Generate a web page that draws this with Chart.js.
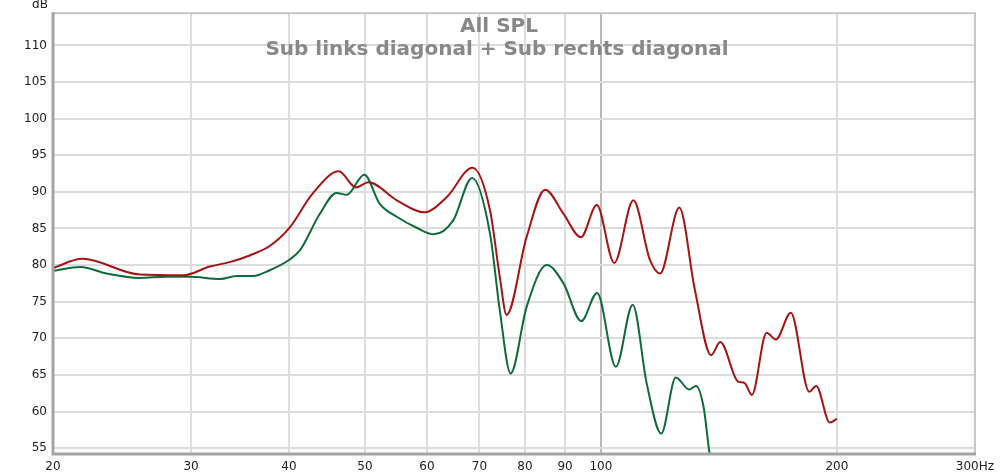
<!DOCTYPE html>
<html>
<head>
<meta charset="utf-8">
<script src="https://cdn.jsdelivr.net/npm/chart.js@4/dist/chart.umd.min.js"></script>
<style>
  html, body { margin: 0; padding: 0; background: #fff; }
  #wrap { width: 1000px; height: 474px; }
</style>
</head>
<body>
<div id="wrap"><canvas id="spl"></canvas></div>
<script>
const redFreq = [20, 21.8, 25.8, 29.3, 31.7, 33.6, 35.7, 37.8, 40, 42.9, 46.3, 48.7, 50.5, 54.9, 59.5, 63.6, 68.6, 72.2, 74.3, 75.8, 80.4, 84.9, 89.6, 94.3, 98.8, 104, 110, 115.5, 119, 125.9, 131.8, 138.2, 142, 149.6, 152.5, 155.8, 162.7, 167.2, 174.7, 184.4, 188.2, 195.9, 200];
const redDb = [79.6, 80.85, 78.7, 78.6, 79.8, 80.4, 81.35, 82.6, 85.0, 89.8, 92.8, 90.6, 91.3, 88.85, 87.2, 89.3, 93.3, 87.5, 78.4, 73.2, 83.85, 90.3, 87.0, 83.8, 88.2, 80.3, 88.85, 80.7, 78.85, 87.85, 76.6, 67.7, 69.5, 64.1, 63.9, 62.25, 70.75, 69.85, 73.5, 62.7, 63.5, 58.5, 59.0];

const greenFreq = [20, 21.7, 23.4, 25.8, 27.9, 29.9, 32.7, 34.3, 36, 37.8, 40, 41.3, 43.8, 46, 47.4, 49.9, 52.2, 54.9, 58.2, 61.2, 64.8, 68.5, 72.2, 74.3, 76.7, 80.4, 85.3, 89.6, 94.4, 98.9, 104.5, 109.8, 114.4, 119.4, 124.6, 129.6, 132.2, 135.2, 137.6, 139];
const greenDb = [79.2, 79.75, 78.85, 78.25, 78.4, 78.4, 78.1, 78.5, 78.5, 79.3, 80.7, 82.0, 87.0, 89.85, 89.6, 92.35, 88.4, 86.6, 85.1, 84.2, 86.1, 91.9, 84.3, 73.85, 65.2, 74.3, 80.0, 77.5, 72.35, 76.2, 66.1, 74.6, 63.85, 57.0, 64.65, 63.0, 63.5, 60.65, 54.3, 52];

const freqTicks = [20, 30, 40, 50, 60, 70, 80, 90, 100, 200, 300];
const dbTicks = [55, 60, 65, 70, 75, 80, 85, 90, 95, 100, 105, 110];

const titleLines = ['All SPL', 'Sub links diagonal + Sub rechts diagonal'];

const toPoints = (xs, ys) => xs.map((f, i) => ({ x: f, y: ys[i] }));

// Rahmen, Titel und "dB"-Beschriftung
const decorations = {
    id: 'decorations',
    afterDraw(chart) {
        const { ctx, chartArea: a } = chart;
        ctx.save();
        ctx.strokeStyle = '#c6c6c6';
        ctx.lineWidth = 2;
        ctx.strokeRect(a.left, a.top, a.right - a.left, a.bottom - a.top);
        ctx.strokeStyle = '#a4a4a4';
        ctx.lineWidth = 3;
        ctx.beginPath();
        ctx.moveTo(a.left, a.top - 1);
        ctx.lineTo(a.left, a.bottom);
        ctx.lineTo(a.right + 1, a.bottom);
        ctx.stroke();

        ctx.fillStyle = '#888888';
        ctx.textAlign = 'center';
        ctx.textBaseline = 'alphabetic';
        // Schriftgröße so wählen, dass die zweite Zeile ca. 463px breit ist
        ctx.font = 'bold 20px "DejaVu Sans"';
        const w = ctx.measureText(titleLines[1]).width;
        const size = Math.min(21, 20 * 463 / w);
        ctx.font = 'bold ' + size.toFixed(1) + 'px "DejaVu Sans"';
        ctx.fillText(titleLines[0], 499, 32);
        ctx.fillText(titleLines[1], 497, 55);

        ctx.fillStyle = '#222';
        ctx.font = '12px "DejaVu Sans"';
        ctx.fillText('dB', 40, 8);
        ctx.restore();
    }
};

new Chart(document.getElementById('spl'), {
    type: 'line',
    data: {
        datasets: [{
            data: toPoints(redFreq, redDb),
            borderColor: '#a51414',
            borderWidth: 2,
            pointRadius: 0,
            cubicInterpolationMode: 'monotone'
        }, {
            data: toPoints(greenFreq, greenDb),
            borderColor: '#0f6a3c',
            borderWidth: 2,
            pointRadius: 0,
            cubicInterpolationMode: 'monotone'
        }]
    },
    options: {
        responsive: true,
        maintainAspectRatio: false,
        animation: false,
        layout: { padding: { top: 13, right: 25, left: 0, bottom: 0 } },
        plugins: { legend: { display: false }, tooltip: { enabled: false } },
        scales: {
            x: {
                type: 'logarithmic',
                min: 20,
                max: 300,
                afterBuildTicks: (scale) => { scale.ticks = freqTicks.map(v => ({ value: v })); },
                afterFit: (scale) => { scale.height = 20; },
                border: { display: false },
                grid: {
                    drawTicks: false,
                    lineWidth: 2,
                    color: (c) => c.tick && c.tick.value === 100 ? '#b8b8b8' : '#dcdcdc'
                },
                ticks: {
                    autoSkip: false,
                    maxRotation: 0,
                    padding: 6,
                    color: '#222',
                    font: { family: 'DejaVu Sans', size: 12 },
                    callback: (v) => v === 300 ? '300Hz' : String(v)
                }
            },
            y: {
                min: 54.2,
                max: 114.4,
                afterBuildTicks: (scale) => { scale.ticks = dbTicks.map(v => ({ value: v })); },
                afterFit: (scale) => { scale.width = 53; },
                border: { display: false },
                grid: { drawTicks: false, lineWidth: 2, color: '#dcdcdc' },
                ticks: {
                    padding: 6,
                    color: '#222',
                    font: { family: 'DejaVu Sans', size: 12 }
                }
            }
        }
    },
    plugins: [decorations]
});
</script>
</body>
</html>
